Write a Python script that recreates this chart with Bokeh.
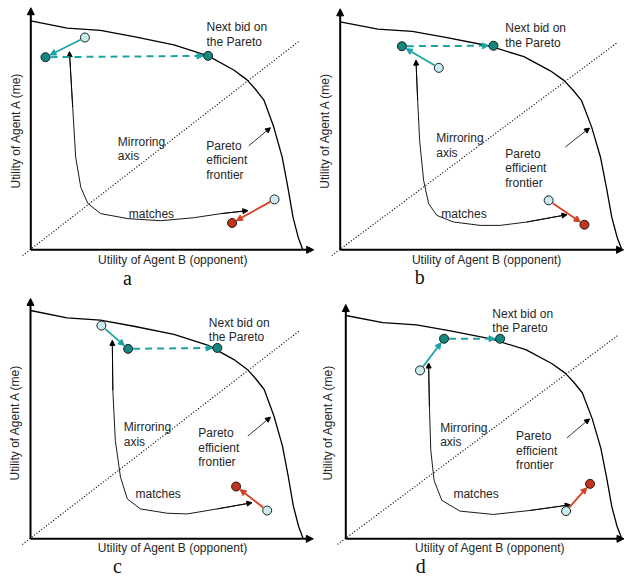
import math
from bokeh.plotting import figure
from bokeh.layouts import column, row
from bokeh.models import Range1d, Arrow, NormalHead
from bokeh.core.properties import value
from bokeh.embed import file_html
from bokeh.resources import INLINE

# ---------------- data (utility units: 0 = origin, 1 = frontier intercept) ----------------
panel_letters = ["a", "b", "c", "d"]

frontier_u = [0.0, 0.134, 0.256, 0.379, 0.526, 0.652, 0.746, 0.795, 0.826, 0.857,
              0.893, 0.924, 0.945, 0.964, 0.983, 1.0]
frontier_v = [1.0, 0.968, 0.958, 0.931, 0.895, 0.847, 0.785, 0.742, 0.701, 0.654,
              0.537, 0.406, 0.274, 0.143, 0.055, 0.0]

mirror_u = [-0.03, 0.985]
mirror_v = [-0.025, 0.91]

# own bids (Agent A): previous bid (light) -> current bid (dark)
own_prev_u = [0.199, 0.350, 0.260, 0.269]
own_prev_v = [0.927, 0.798, 0.934, 0.754]
own_new_u = [0.054, 0.219, 0.358, 0.356]
own_new_v = [0.841, 0.893, 0.832, 0.896]
# next bid on the Pareto frontier
next_u = [0.652, 0.544, 0.685, 0.559]
next_v = [0.847, 0.895, 0.836, 0.896]
# opponent bids: previous (light) -> current (red)
opp_prev_u = [0.896, 0.740, 0.868, 0.798]
opp_prev_v = [0.220, 0.217, 0.124, 0.124]
opp_new_u = [0.740, 0.867, 0.754, 0.885]
opp_new_v = [0.117, 0.110, 0.229, 0.246]

# "matches" curved connector (top end first)
match_u = [
    [0.142, 0.154, 0.165, 0.184, 0.210, 0.257, 0.357, 0.478, 0.599, 0.699, 0.798],
    [0.269, 0.275, 0.282, 0.296, 0.314, 0.343, 0.402, 0.497, 0.568, 0.663, 0.805],
    [0.300, 0.302, 0.311, 0.330, 0.355, 0.403, 0.501, 0.575, 0.685, 0.812],
    [0.300, 0.303, 0.308, 0.320, 0.348, 0.414, 0.535, 0.668, 0.813],
]
match_v = [
    [0.865, 0.623, 0.404, 0.272, 0.202, 0.158, 0.136, 0.127, 0.140, 0.158, 0.171],
    [0.832, 0.656, 0.480, 0.305, 0.202, 0.151, 0.122, 0.107, 0.107, 0.122, 0.154],
    [0.869, 0.650, 0.431, 0.270, 0.175, 0.131, 0.112, 0.109, 0.131, 0.158],
    [0.787, 0.590, 0.396, 0.261, 0.172, 0.124, 0.109, 0.127, 0.152],
]

# pointer arrow to the frontier
pointer_u0 = [0.801, 0.799, 0.797, 0.801]
pointer_v0 = [0.454, 0.451, 0.450, 0.452]
pointer_u1 = [0.881, 0.885, 0.880, 0.883]
pointer_v1 = [0.533, 0.534, 0.533, 0.537]

x_axis_label = "Utility of Agent B (opponent)"
y_axis_label = "Utility of Agent A (me)"
next_bid_lines = ["Next bid on", "the Pareto"]
mirror_lines = ["Mirroring", "axis"]
pareto_lines = ["Pareto", "efficient", "frontier"]
matches_label = "matches"

# ---------------- layout / style ----------------
next_bid_pos = [(0.646, 0.971), (0.586, 0.971), (0.654, 0.946), (0.531, 1.007)]
mirror_pos = [(0.320, 0.472), (0.341, 0.490), (0.342, 0.489), (0.342, 0.497)]
pareto_pos = [(0.645, 0.454), (0.586, 0.422), (0.615, 0.463), (0.617, 0.460)]
matches_pos = [(0.360, 0.158), (0.359, 0.155), (0.385, 0.197), (0.390, 0.199)]
xlab_pos = [(0.523, -0.044), (0.521, -0.044), (0.522, -0.041), (0.523, -0.042)]
ylab_pos = [(-0.056, 0.523), (-0.053, 0.524), (-0.057, 0.511), (-0.063, 0.522)]
letter_pos = [(0.355, -0.121), (0.282, -0.121), (0.319, -0.117), (0.272, -0.120)]

# figure size (px), origin inside the figure (px from left / top), px per utility unit,
# and the axis-arrow tips (utility units)
specs = [
    dict(w=317, h=290, ox=30.3, oy=249.3, sx=272.0, sy=229.0, tipx=1.040, tipy=1.057),
    dict(w=308, h=290, ox=22.7, oy=249.3, sx=281.7, sy=228.0, tipx=1.006, tipy=1.057),
    dict(w=317, h=288, ox=30.0, oy=248.3, sx=272.7, sy=228.3, tipx=1.037, tipy=1.053),
    dict(w=308, h=288, ox=28.3, oy=248.3, sx=276.0, sy=223.3, tipx=1.008, tipy=1.049),
]

SANS = "Liberation Sans"
SERIF = "Liberation Serif"
TEXT_C = "#262626"
TEAL_DARK = "#14877f"
TEAL_LINE = "#1ca3a3"
LIGHT = "#c9ecee"
RED = "#c3321c"
RED_LINE = "#d6401f"
OUTLINE = "#1e1e1e"
FS = "12px"
LINE_PX = 14.5
R_PX = 5.0


def add_arrow(p, x0, y0, x1, y1, color, width, head, dash="solid"):
    p.add_layout(Arrow(end=NormalHead(size=head, fill_color=color, line_color=color, line_width=1),
                       x_start=x0, y_start=y0, x_end=x1, y_end=y1,
                       line_color=color, line_width=width, line_dash=dash))


def trimmed(x0, y0, x1, y1, sx, sy, r0, r1):
    dx, dy = (x1 - x0) * sx, (y1 - y0) * sy
    L = math.hypot(dx, dy)
    ux, uy = dx / L, dy / L
    return (x0 + r0 * ux / sx, y0 + r0 * uy / sy, x1 - r1 * ux / sx, y1 - r1 * uy / sy)


def panel(i):
    s = specs[i]
    sx, sy = s["sx"], s["sy"]
    xr = Range1d(-s["ox"] / sx, (s["w"] - s["ox"]) / sx)
    yr = Range1d(-(s["h"] - s["oy"]) / sy, s["oy"] / sy)
    p = figure(width=s["w"], height=s["h"], x_range=xr, y_range=yr,
               output_backend="svg", toolbar_location=None, title=None,
               x_axis_location=None, y_axis_location=None, min_border=0)
    p.outline_line_color = None
    p.grid.visible = False
    dy_line = LINE_PX / sy

    # frontier and mirroring axis
    p.line(frontier_u, frontier_v, line_color="black", line_width=1.3)
    p.line(mirror_u, mirror_v, line_color="black", line_width=1.2, line_dash="1 2")

    # matches curve with both heads
    mu, mv = match_u[i], match_v[i]
    p.line(mu, mv, line_color="black", line_width=0.9)
    add_arrow(p, mu[1], mv[1], mu[0], mv[0], "black", 0.9, 5)
    add_arrow(p, mu[-2], mv[-2], mu[-1], mv[-1], "black", 0.9, 5)

    # axes with arrowheads
    add_arrow(p, 0, 0, 0, s["tipy"], "black", 2, 7)
    add_arrow(p, 0, 0, s["tipx"], 0, "black", 2, 7)

    # pointer to frontier
    add_arrow(p, pointer_u0[i], pointer_v0[i], pointer_u1[i], pointer_v1[i], "black", 0.8, 5)

    # own move (teal), dashed move to frontier, opponent move (red)
    a = trimmed(own_prev_u[i], own_prev_v[i], own_new_u[i], own_new_v[i], sx, sy, R_PX, R_PX)
    add_arrow(p, *a, TEAL_LINE, 1.8, 6)
    b = trimmed(own_new_u[i], own_new_v[i], next_u[i], next_v[i], sx, sy, R_PX, R_PX)
    add_arrow(p, *b, TEAL_LINE, 2, 6, dash="7 5")
    c = trimmed(opp_prev_u[i], opp_prev_v[i], opp_new_u[i], opp_new_v[i], sx, sy, R_PX, R_PX)
    add_arrow(p, *c, RED_LINE, 1.8, 6)

    # points
    p.scatter([own_prev_u[i], opp_prev_u[i]], [own_prev_v[i], opp_prev_v[i]], size=9,
              fill_color=LIGHT, line_color=OUTLINE, line_width=1, level="overlay")
    p.scatter([own_new_u[i], next_u[i]], [own_new_v[i], next_v[i]], size=9,
              fill_color=TEAL_DARK, line_color=OUTLINE, line_width=1, level="overlay")
    p.scatter([opp_new_u[i]], [opp_new_v[i]], size=9,
              fill_color=RED, line_color=OUTLINE, line_width=1, level="overlay")

    # texts in the plot
    xs, ys, ts = [], [], []
    for pos, lines in ((next_bid_pos[i], next_bid_lines), (mirror_pos[i], mirror_lines),
                       (pareto_pos[i], pareto_lines), (matches_pos[i], [matches_label])):
        for k, t in enumerate(lines):
            xs.append(pos[0])
            ys.append(pos[1] - k * dy_line)
            ts.append(t)
    p.text(xs, ys, text=ts, text_font=value(SANS), text_font_size=FS, text_color=TEXT_C,
           text_align="left", text_baseline="middle", level="overlay")

    # axis titles
    p.text([xlab_pos[i][0]], [xlab_pos[i][1]], text=[x_axis_label], text_font=value(SANS),
           text_font_size=FS, text_color=TEXT_C, text_align="center", text_baseline="middle")
    p.text([ylab_pos[i][0]], [ylab_pos[i][1]], text=[y_axis_label], text_font=value(SANS),
           text_font_size=FS, text_color=TEXT_C, text_align="center", text_baseline="middle",
           angle=math.pi / 2)

    # panel letter
    p.text([letter_pos[i][0]], [letter_pos[i][1]], text=[panel_letters[i]],
           text_font=value(SERIF), text_font_size="20px", text_color="#111111",
           text_align="center", text_baseline="middle")
    return p


figs = [panel(i) for i in range(4)]
layout = column(row(figs[0], figs[1]), row(figs[2], figs[3]))
open("out.html", "w").write(file_html(layout, INLINE))
